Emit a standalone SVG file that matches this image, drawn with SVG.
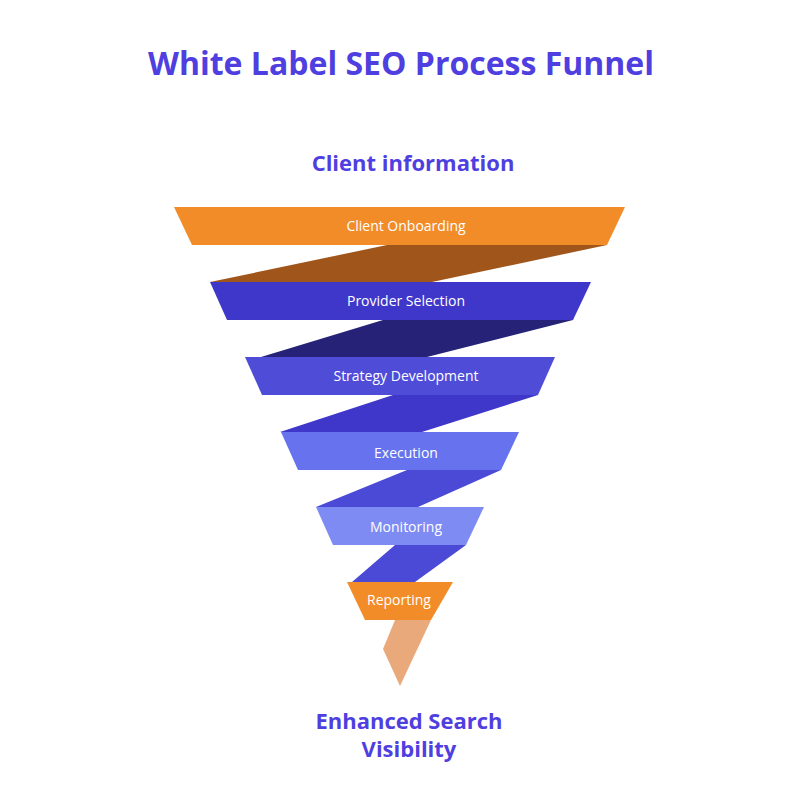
<svg xmlns="http://www.w3.org/2000/svg" width="802" height="802" viewBox="0 0 802 802">
<style>
.t{font-family:"Open Sans","Noto Sans",sans-serif;font-weight:700;fill:#4F3FE0;text-anchor:middle}
.l{font-family:"Open Sans","Noto Sans",sans-serif;font-weight:500;font-size:14px;fill:#fff;text-anchor:middle}
</style>
<rect width="802" height="802" fill="#fff"/>
<text class="t" x="401" y="75" font-size="32">White Label SEO Process Funnel</text>
<text class="t" x="413" y="171" font-size="22" font-weight="600">Client information</text>
<g id="connectors">
<polygon points="387,245 607,245 432,282 210,282" fill="#A0561B"/>
<polygon points="383,320 573,320 427,357 261,357" fill="#262277"/>
<polygon points="393,395 538,395 422,432 280,432" fill="#3F37C9"/>
<polygon points="407,470 501,470 418,507 316,507" fill="#4B4AD6"/>
<polygon points="395,545 466,545 415,582 352,582" fill="#4B4AD6"/>
<polygon points="395,620 431,620 400,686 383,649" fill="#EAA97A"/>
</g>
<g id="n1"><polygon points="174,207 625,207 607,245 192,245" fill="#F28C28"/><text class="l" x="406" y="231">Client Onboarding</text></g>
<g id="n2"><polygon points="210,282 591,282 573,320 227,320" fill="#3F37C9"/><text class="l" x="406" y="306">Provider Selection</text></g>
<g id="n3"><polygon points="245,357 555,357 538,395 262,395" fill="#4F4CD8"/><text class="l" x="406" y="381">Strategy Development</text></g>
<g id="n4"><polygon points="281,432 519,432 501,470 298,470" fill="#6672EE"/><text class="l" x="406" y="458">Execution</text></g>
<g id="n5"><polygon points="316,507 484,507 466,545 333,545" fill="#7E8BF2"/><text class="l" x="406" y="532">Monitoring</text></g>
<g id="n6"><polygon points="347,582 453,582 431,620 365,620" fill="#F28C28"/><text class="l" x="399" y="605">Reporting</text></g>
<text class="t" font-size="22" font-weight="600" x="409" y="729">Enhanced Search</text>
<text class="t" font-size="22" font-weight="600" x="409" y="757">Visibility</text>
</svg>
